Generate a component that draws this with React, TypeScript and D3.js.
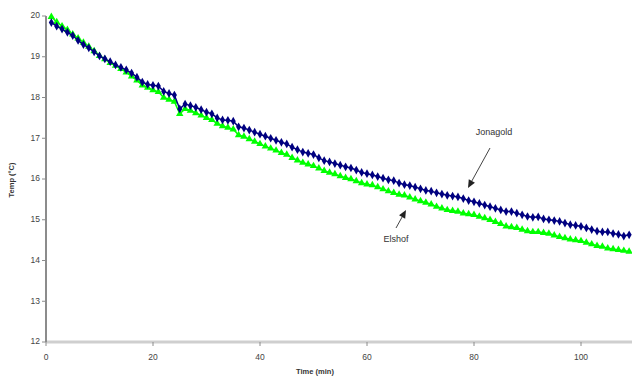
import * as d3 from "d3";

// ── Data ──────────────────────────────────────────────────
const minutes = d3.range(1, 110);

const jonagold = [
  19.84, 19.75, 19.68, 19.6, 19.52, 19.4, 19.3, 19.22, 19.12, 19.02,
  18.95, 18.88, 18.8, 18.74, 18.68, 18.6, 18.5, 18.38, 18.32, 18.3,
  18.28, 18.15, 18.1, 18.06, 17.72, 17.84, 17.8, 17.76, 17.7, 17.64,
  17.6, 17.5, 17.45, 17.44, 17.42, 17.28, 17.25, 17.2, 17.15, 17.1,
  17.05, 17.0, 16.95, 16.9, 16.86, 16.78, 16.72, 16.66, 16.63, 16.6,
  16.52, 16.45, 16.42, 16.38, 16.34, 16.3, 16.27, 16.22, 16.16, 16.13,
  16.1, 16.06, 16.02, 15.98, 15.96, 15.9, 15.86, 15.84, 15.8, 15.76,
  15.72, 15.7, 15.66, 15.63, 15.6, 15.58, 15.56, 15.52, 15.47, 15.44,
  15.4, 15.36, 15.32, 15.28, 15.24, 15.2, 15.2, 15.16, 15.12, 15.08,
  15.06, 15.07, 15.02, 15.0, 14.98, 14.96, 14.92, 14.88, 14.86, 14.84,
  14.8, 14.76, 14.72, 14.7, 14.7, 14.66, 14.64, 14.6, 14.63,
];

const elshof = [
  19.98, 19.85, 19.75, 19.66, 19.55, 19.45, 19.35, 19.25, 19.14, 19.02,
  18.94, 18.85, 18.78, 18.7, 18.62, 18.52, 18.42, 18.3, 18.24, 18.18,
  18.14, 18.0, 17.95, 17.9, 17.6, 17.72, 17.68, 17.62, 17.56, 17.5,
  17.45, 17.36, 17.3, 17.26, 17.22, 17.08, 17.04, 16.98, 16.92, 16.86,
  16.8, 16.75, 16.7, 16.64, 16.6, 16.52, 16.46, 16.4, 16.36, 16.32,
  16.26, 16.2, 16.16, 16.12, 16.07, 16.03, 16.0, 15.95, 15.9, 15.87,
  15.85, 15.8, 15.75, 15.7, 15.66, 15.62, 15.6, 15.55, 15.5, 15.46,
  15.42, 15.38, 15.32, 15.28, 15.24, 15.22, 15.2, 15.16, 15.14, 15.12,
  15.08, 15.04, 15.0, 14.95, 14.9, 14.84, 14.82, 14.8, 14.76, 14.72,
  14.7, 14.7, 14.68, 14.66, 14.62, 14.58, 14.55, 14.52, 14.5, 14.48,
  14.44, 14.4, 14.36, 14.34, 14.3, 14.28, 14.26, 14.24, 14.22,
];

const xTicks = [0, 20, 40, 60, 80, 100];
const yTicks = [12, 13, 14, 15, 16, 17, 18, 19, 20];

// ── Layout ────────────────────────────────────────────────
const W = 632;
const H = 378;
const FONT = "Arial, 'Liberation Sans', sans-serif";

const x = d3.scaleLinear().domain([0, 110]).range([46, 634.5]);
const y = d3.scaleLinear().domain([12, 20]).range([342, 16]);

const BLUE = "#000080";
const GREEN = "#00ff00";

const line = d3.line<number>()
  .x((_, i) => x(minutes[i]))
  .y(d => y(d));

const diamond = d3.symbol().type(d3.symbolDiamond).size(22)();
const triangle = d3.symbol().type(d3.symbolTriangle).size(24)();

function Arrow({ x1, y1, x2, y2 }: { x1: number; y1: number; x2: number; y2: number }) {
  const a = Math.atan2(y2 - y1, x2 - x1);
  const L = 8, Wd = 3.5;
  const bx = x2 - L * Math.cos(a), by = y2 - L * Math.sin(a);
  const px = -Math.sin(a) * Wd, py = Math.cos(a) * Wd;
  return (
    <g>
      <line x1={x1} y1={y1} x2={bx} y2={by} stroke="#444" strokeWidth={1} />
      <path d={`M${x2},${y2}L${bx + px},${by + py}L${bx - px},${by - py}Z`} fill="#222" />
    </g>
  );
}

export default function App() {
  return (
    <svg width={W} height={H} style={{ position: "absolute", left: 0, top: 0, background: "#fff" }}
      fontFamily={FONT}>
      {/* axes */}
      <line x1={x(0)} y1={y(12)} x2={W} y2={y(12)} stroke="#cfcfcf" strokeWidth={3} />
      <line x1={x(0)} y1={y(20)} x2={x(0)} y2={y(12)} stroke="#8c8c8c" strokeWidth={2} />

      {yTicks.map(t => (
        <g key={t}>
          <line x1={x(0) - 4} x2={x(0)} y1={y(t)} y2={y(t)} stroke="#8c8c8c" strokeWidth={1} />
          <text x={x(0) - 6} y={y(t)} textAnchor="end" dominantBaseline="middle"
            fontSize={8.5} fill="#444">{t}</text>
        </g>
      ))}
      {xTicks.map(t => (
        <g key={t}>
          <line x1={x(t)} x2={x(t)} y1={y(12)} y2={y(12) + 4} stroke="#8c8c8c" strokeWidth={1} />
          <text x={x(t)} y={358} textAnchor="middle" dominantBaseline="middle"
            fontSize={8.5} fill="#444">{t}</text>
        </g>
      ))}

      <text x={315} y={372} textAnchor="middle" dominantBaseline="middle"
        fontSize={7.5} fontWeight="bold" fill="#333">Time (min)</text>
      <text transform={`translate(12, 180) rotate(-90)`} textAnchor="middle" dominantBaseline="middle"
        fontSize={7.5} fontWeight="bold" fill="#333">Temp (°C)</text>

      {/* series */}
      <path d={line(elshof) ?? ""} fill="none" stroke={GREEN} strokeWidth={1.5} />
      {elshof.map((v, i) => (
        <path key={i} d={triangle} transform={`translate(${x(minutes[i])},${y(v)})`} fill={GREEN} />
      ))}
      <path d={line(jonagold) ?? ""} fill="none" stroke={BLUE} strokeWidth={1.5} />
      {jonagold.map((v, i) => (
        <path key={i} d={diamond} transform={`translate(${x(minutes[i])},${y(v)})`} fill={BLUE} />
      ))}

      {/* annotations */}
      <text x={494} y={133} textAnchor="middle" dominantBaseline="middle" fontSize={9} fill="#333">Jonagold</text>
      <Arrow x1={490} y1={148} x2={468} y2={188} />
      <text x={396} y={240} textAnchor="middle" dominantBaseline="middle" fontSize={9} fill="#333">Elshof</text>
      <Arrow x1={396} y1={228} x2={406} y2={210} />
    </svg>
  );
}
